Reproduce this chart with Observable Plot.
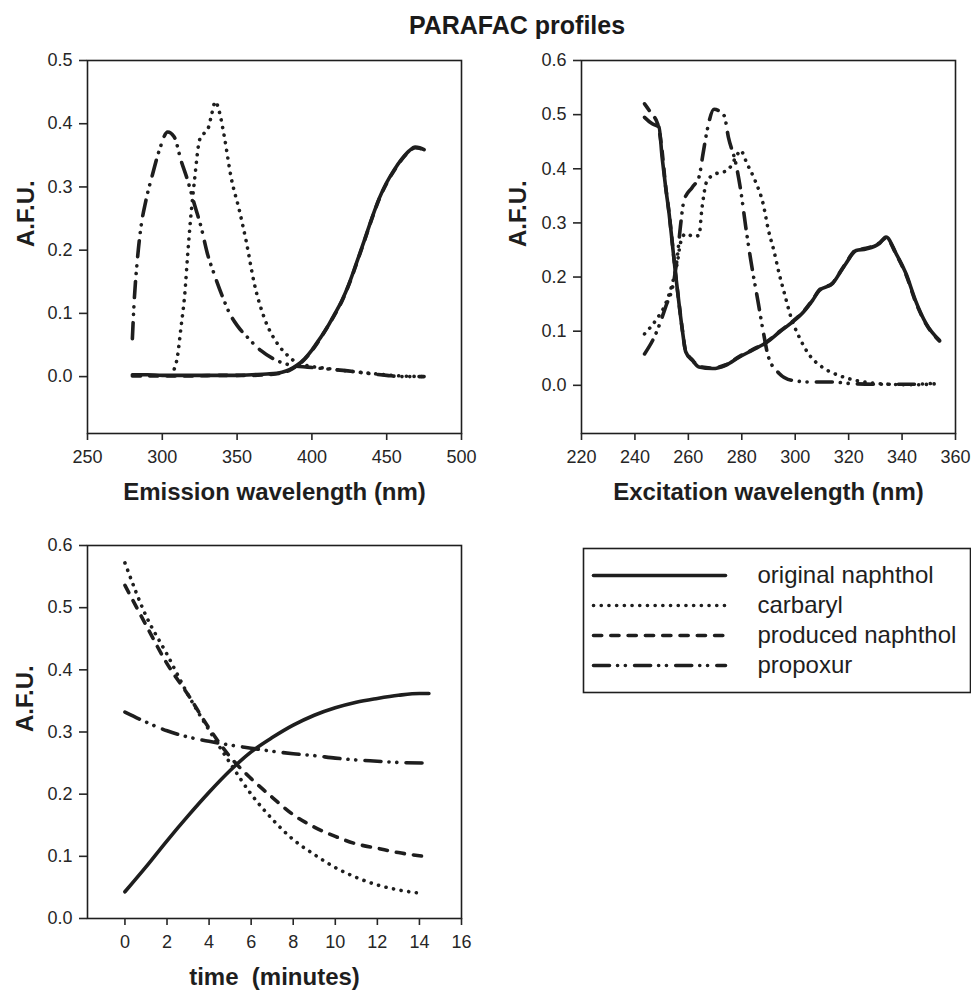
<!DOCTYPE html>
<html>
<head>
<meta charset="utf-8">
<script src="https://cdn.jsdelivr.net/npm/d3@7"></script>
<script src="https://cdn.jsdelivr.net/npm/@observablehq/plot@0.6"></script>
<style>
  body { margin: 0; background: #fff; }
  #wrap { position: relative; width: 971px; height: 990px; overflow: hidden; background: #fff;
          font-family: "Liberation Sans", Arial, sans-serif; }
  #wrap > * { position: absolute; }
  #title { left: 317px; width: 400px; top: 13px; text-align: center; font-weight: bold;
           font-size: 25px; line-height: 25px; color: #1a1a1a; }
</style>
</head>
<body>
<div id="wrap"><div id="title">PARAFAC profiles</div></div>
<script>
// ---------- series & tick labels ----------
const seriesNames = ["original naphthol", "carbaryl", "produced naphthol", "propoxur"];

const emTicksX = [250, 300, 350, 400, 450, 500];
const emTicksY = [0, 0.1, 0.2, 0.3, 0.4, 0.5];
const exTicksX = [220, 240, 260, 280, 300, 320, 340, 360];
const exTicksY = [0, 0.1, 0.2, 0.3, 0.4, 0.5, 0.6];
const tmTicksX = [0, 2, 4, 6, 8, 10, 12, 14, 16];
const tmTicksY = [0, 0.1, 0.2, 0.3, 0.4, 0.5, 0.6];

// ---------- emission profiles [wavelength nm, A.F.U.] ----------
const emOriginal = [[280,.003],[290,.003],[300,.002],[310,.002],[320,.002],[330,.002],[340,.002],[350,.002],[360,.003],[370,.004],[380,.007],[385,.011],[390,.018],[395,.028],[400,.042],[405,.059],[410,.077],[415,.098],[420,.12],[425,.148],[430,.181],[435,.215],[440,.25],[445,.282],[450,.307],[455,.327],[460,.344],[465,.357],[469,.363],[472,.362],[475,.359]];
const emCarbaryl = [[308,.012],[310,.03],[312.5,.078],[315,.13],[317,.194],[319,.252],[321.5,.31],[325,.375],[328,.385],[331,.395],[333,.415],[335.5,.435],[338,.42],[341.5,.379],[346,.315],[351.5,.263],[356,.215],[361.5,.147],[368,.094],[377,.052],[384,.033],[390,.022],[400,.016],[410,.013],[420,.01],[440,.005],[460,.001],[475,0]];
const emProduced = [[280,.001],[300,.001],[320,.001],[340,.002],[360,.002],[370,.003],[380,.006],[385,.01],[390,.017],[395,.027],[400,.041],[405,.058],[410,.077],[415,.097],[420,.119],[425,.147],[430,.18],[435,.214],[440,.249],[445,.281],[450,.306],[455,.326],[460,.343],[465,.356],[469,.362],[472,.361],[475,.358]];
const emPropoxur = [[280,.06],[281,.11],[283.5,.189],[285.7,.236],[289,.278],[293.5,.32],[298,.358],[303.6,.387],[308,.379],[312.5,.342],[317,.31],[321.4,.273],[326,.236],[330,.196],[335,.16],[340,.128],[345,.1],[350,.081],[357,.062],[366,.041],[377,.025],[388,.017],[397,.015],[411,.012],[424,.009],[437.5,.005],[450,.002],[460,0],[475,0]];

// ---------- excitation profiles [wavelength nm, A.F.U.] ----------
const exOriginal = [[243.6,.495],[246.5,.483],[249,.477],[250.2,.42],[251.5,.366],[252.8,.317],[254,.262],[255.2,.206],[256.5,.151],[257.8,.1],[259,.062],[261.5,.046],[264,.034],[269,.031],[274,.037],[279,.052],[284,.065],[289.5,.08],[294,.098],[299,.117],[303,.135],[306.5,.157],[309,.175],[314,.188],[316.5,.206],[319,.225],[322.8,.249],[326.5,.252],[331.5,.262],[334,.274],[337.8,.243],[341.5,.206],[345,.157],[349,.114],[354,.083]];
const exCarbaryl = [[243.6,.095],[247.8,.12],[251.5,.151],[254,.188],[256,.23],[257,.262],[259,.28],[262,.275],[264,.277],[265,.323],[267,.378],[270,.39],[274.6,.397],[277.8,.421],[279.5,.434],[282,.409],[285,.378],[288,.335],[290,.286],[292,.249],[294,.206],[296,.169],[298.4,.126],[301.5,.089],[305,.058],[310,.034],[316.5,.018],[322.8,.009],[331.5,.003],[344,.001],[352.8,.003]];
const exProduced = [[243.6,.52],[246,.503],[248.5,.483],[250,.44],[251.5,.367],[252.8,.318],[254,.263],[255.2,.207],[256.5,.152],[257.8,.101],[259,.063],[261.5,.047],[264,.035],[269,.032],[274,.038],[279,.053],[284,.066],[289.5,.081],[294,.099],[299,.118],[303,.136],[306.5,.158],[309,.176],[314,.189],[316.5,.207],[319,.226],[322.8,.25],[326.5,.253],[331.5,.263],[334,.272],[337.8,.242],[341.5,.204],[345,.155],[349,.113],[354,.082]];
const exPropoxur = [[243.6,.058],[247.8,.095],[251.5,.145],[254.6,.194],[256,.243],[257,.292],[258.4,.342],[261.5,.366],[264,.385],[265.5,.428],[267,.47],[269.6,.51],[273.4,.498],[275,.458],[277.8,.409],[279.6,.36],[281.5,.292],[283.4,.23],[286,.157],[288,.1],[290,.052],[294,.022],[299,.009],[306.5,.006],[314,.006],[321.5,.003],[331.5,.002],[344,.002],[352.8,.004]];

// ---------- time profiles [minutes, A.F.U.] ----------
const tmOriginal = [[0,.043],[1,.083],[2,.125],[3,.165],[4,.203],[5,.238],[6,.268],[7,.291],[8,.311],[9,.327],[10,.339],[11,.348],[12,.354],[13,.359],[14,.362],[14.45,.362]];
const tmCarbaryl = [[0,.572],[1,.487],[2,.425],[3,.36],[4,.303],[5,.25],[6,.2],[7,.16],[8,.127],[9,.103],[10,.082],[11,.066],[12,.054],[13,.046],[14.2,.04]];
const tmProduced = [[0,.536],[1,.472],[2,.41],[3,.36],[4,.306],[5,.26],[6,.225],[7,.195],[8,.167],[9,.147],[10,.132],[11,.12],[12,.113],[13,.106],[14.2,.1]];
const tmPropoxur = [[0,.332],[1,.316],[2,.302],[3,.292],[4,.285],[5,.279],[6,.274],[7,.269],[8,.265],[9,.262],[10,.258],[11,.255],[12,.253],[13,.251],[14.45,.25]];

// ---------- styling ----------
const INK = "#1e1e1e";
const dashes = {
  "original naphthol": null,
  "carbaryl": "0.1 7.6",
  "produced naphthol": "8.2 9.1",
  "propoxur": "16 8 0.1 7.7 0.1 9.2"
};
const drawOrder = ["produced naphthol", "carbaryl", "propoxur", "original naphthol"];
const wrap = document.getElementById("wrap");
const fmt1 = d3.format(".1f");

function lineStyle(name) {
  const s = {stroke: INK, strokeWidth: 3.6, strokeLinecap: "round", strokeLinejoin: "round"};
  if (dashes[name]) s.strokeDasharray = dashes[name];
  return s;
}

function panel(cfg) {
  const marks = [];
  for (const name of drawOrder) {
    marks.push(Plot.line(cfg.data[name], {x: d => d[0], y: d => d[1], curve: "monotone-x", ...lineStyle(name)}));
  }
  marks.push(Plot.frame({stroke: INK, strokeWidth: 1.6}));
  marks.push(Plot.axisX({ticks: cfg.xTicks, tickSize: 7, tickPadding: 10, fontSize: 18, strokeWidth: 1.6, label: null, tickFormat: d3.format("d")}));
  marks.push(Plot.axisY({ticks: cfg.yTicks, tickSize: 8, tickPadding: 7, fontSize: 18, strokeWidth: 1.6, label: null, tickFormat: fmt1}));
  marks.push(Plot.text([cfg.xLabel], {text: d => d, frameAnchor: "bottom", dy: 66.5, lineAnchor: "bottom", fontSize: 24, fontWeight: "bold", fill: INK}));
  marks.push(Plot.text(["A.F.U."], {text: d => d, frameAnchor: "left", dx: cfg.yLabelDx, rotate: -90, lineAnchor: "bottom", fontSize: 24, fontWeight: "bold", fill: INK}));
  const svg = Plot.plot({
    width: cfg.width, height: cfg.height,
    marginLeft: cfg.m[3], marginTop: cfg.m[0], marginRight: cfg.m[1], marginBottom: cfg.m[2],
    x: {domain: cfg.xDomain},
    y: {domain: cfg.yDomain},
    style: {fontFamily: "Liberation Sans, Arial, sans-serif", color: "#262626", background: "transparent", overflow: "visible"},
    marks
  });
  svg.style.left = cfg.left + "px";
  svg.style.top = cfg.top + "px";
  wrap.append(svg);
}

panel({
  left: 0, top: 0, width: 480, height: 520, m: [60, 19, 87, 87],
  xDomain: [250, 500], yDomain: [-0.09, 0.5], xTicks: emTicksX, yTicks: emTicksY,
  xLabel: "Emission wavelength (nm)", yLabelDx: -54,
  data: {"original naphthol": emOriginal, "carbaryl": emCarbaryl, "produced naphthol": emProduced, "propoxur": emPropoxur}
});

panel({
  left: 480, top: 0, width: 491, height: 520, m: [60, 16, 87, 101],
  xDomain: [220, 360], yDomain: [-0.089, 0.6], xTicks: exTicksX, yTicks: exTicksY,
  xLabel: "Excitation wavelength (nm)", yLabelDx: -55.5,
  data: {"original naphthol": exOriginal, "carbaryl": exCarbaryl, "produced naphthol": exProduced, "propoxur": exPropoxur}
});

panel({
  left: 0, top: 520, width: 480, height: 470, m: [25, 19, 72, 87],
  xDomain: [-1.78, 16], yDomain: [0, 0.6], xTicks: tmTicksX, yTicks: tmTicksY,
  xLabel: "time\u00A0\u00A0(minutes)", yLabelDx: -54.5,
  data: {"original naphthol": tmOriginal, "carbaryl": tmCarbaryl, "produced naphthol": tmProduced, "propoxur": tmPropoxur}
});

// ---------- legend ----------
const legendMarks = [Plot.frame({stroke: INK, strokeWidth: 1.6})];
for (const name of seriesNames) {
  legendMarks.push(Plot.link([name], {x1: () => 0, x2: () => 1, y1: d => d, y2: d => d, ...lineStyle(name)}));
}
legendMarks.push(Plot.text(seriesNames, {x: () => 1, y: d => d, text: d => d, dx: 32, textAnchor: "start", lineAnchor: "middle", fontSize: 24, fill: INK}));
const legend = Plot.plot({
  width: 411, height: 160, marginLeft: 23, marginRight: 1, marginTop: 8, marginBottom: 8,
  x: {domain: [0, 1], range: [33, 165], axis: null},
  y: {type: "point", domain: seriesNames, range: [34, 125], padding: 0, axis: null},
  style: {fontFamily: "Liberation Sans, Arial, sans-serif", color: "#262626", background: "transparent", overflow: "visible"},
  marks: legendMarks
});
legend.style.left = "560px";
legend.style.top = "540px";
wrap.append(legend);
</script>
</body>
</html>
